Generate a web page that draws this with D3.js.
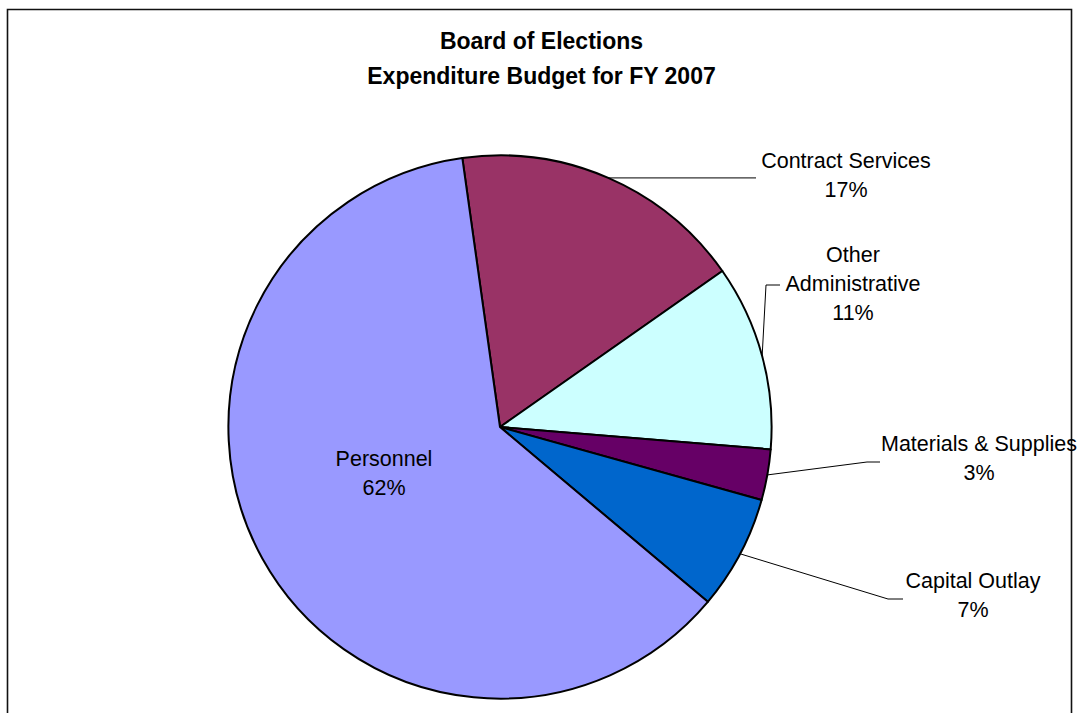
<!DOCTYPE html>
<html>
<head>
<meta charset="utf-8">
<script src="https://cdn.jsdelivr.net/npm/d3@7"></script>
<style>
  html, body { margin: 0; padding: 0; background: #fff; }
  svg { display: block; }
</style>
</head>
<body>
<svg id="chart" width="1078" height="713"></svg>
<script>
// Budget categories in drawing order (clockwise from the first slice)
const categories = ["Contract Services", "Other Administrative", "Materials & Supplies", "Capital Outlay", "Personnel"];
// Share of the FY 2007 expenditure budget, in percent
const shares = [17.48, 11.05, 3.02, 6.80, 61.66];
const sliceColors = ["#993366", "#CCFFFF", "#660066", "#0066CC", "#9999FF"];
const titleLines = ["Board of Elections", "Expenditure Budget for FY 2007"];
// How each category name is broken into lines
const labelLines = [["Contract Services"], ["Other", "Administrative"], ["Materials & Supplies"], ["Capital Outlay"], ["Personnel"]];

const width = 1078, height = 713;
const cx = 500, cy = 427, radius = 271.6;
const startDeg = -7.97;

// Label placement: text centre x, first baseline y, leader path (elbow, end) in page coords
const labelLayout = [
  { x: 846, y: 168, leader: [[756, null]] },
  { x: 853, y: 262, leader: [[766, 285], [780, 285]] },
  { x: 979, y: 451, leader: [[867, 462], [880, 462]] },
  { x: 973, y: 588, leader: [[888, 599], [903, 599]] },
  { x: 384, y: 466, leader: null }
];
const lineGap = 29;

const svg = d3.select("#chart");
svg.append("rect").attr("width", width).attr("height", height).attr("fill", "#fff");

// Chart frame
svg.append("path")
  .attr("d", "M7.5,720 V9.5 H1071.5 V720")
  .attr("fill", "none").attr("stroke", "#111").attr("stroke-width", 1.6);

// Title
const title = svg.append("text")
  .attr("text-anchor", "middle")
  .attr("font-family", "Liberation Sans, Arial, sans-serif")
  .attr("font-weight", "bold").attr("font-size", 23).attr("fill", "#000");
titleLines.forEach((t, i) => {
  title.append("tspan").attr("x", 541.5).attr("y", 49 + i * 35).text(t);
});

const data = categories.map((c, i) => ({ name: c, value: shares[i], color: sliceColors[i], lines: labelLines[i], layout: labelLayout[i] }));
const total = d3.sum(shares);

const pie = d3.pie().sort(null).value(d => d.value)
  .startAngle(startDeg * Math.PI / 180)
  .endAngle(startDeg * Math.PI / 180 + 2 * Math.PI);
const arcs = pie(data);
const arc = d3.arc().innerRadius(0).outerRadius(radius);

const g = svg.append("g").attr("transform", `translate(${cx},${cy})`);
g.selectAll("path.slice").data(arcs).enter().append("path")
  .attr("class", "slice")
  .attr("d", arc)
  .attr("fill", d => d.data.color)
  .attr("stroke", "#000").attr("stroke-width", 2).attr("stroke-linejoin", "round");

// Leader lines start on the rim at each slice's mid angle
arcs.forEach(a => {
  const lay = a.data.layout;
  if (!lay.leader) return;
  const mid = (a.startAngle + a.endAngle) / 2;
  const rx = cx + radius * Math.sin(mid), ry = cy - radius * Math.cos(mid);
  const pts = [[rx, ry]].concat(lay.leader.map(p => [p[0], p[1] === null ? ry : p[1]]));
  svg.append("path")
    .attr("d", d3.line()(pts))
    .attr("fill", "none").attr("stroke", "#000").attr("stroke-width", 1);
});

// Category labels with percentage
arcs.forEach(a => {
  const lay = a.data.layout;
  const pct = Math.round(a.data.value / total * 100) + "%";
  const t = svg.append("text")
    .attr("text-anchor", "middle")
    .attr("font-family", "Liberation Sans, Arial, sans-serif")
    .attr("font-size", 21.5).attr("fill", "#000");
  a.data.lines.concat([pct]).forEach((line, i) => {
    t.append("tspan").attr("x", lay.x).attr("y", lay.y + i * lineGap).text(line);
  });
});
</script>
</body>
</html>
